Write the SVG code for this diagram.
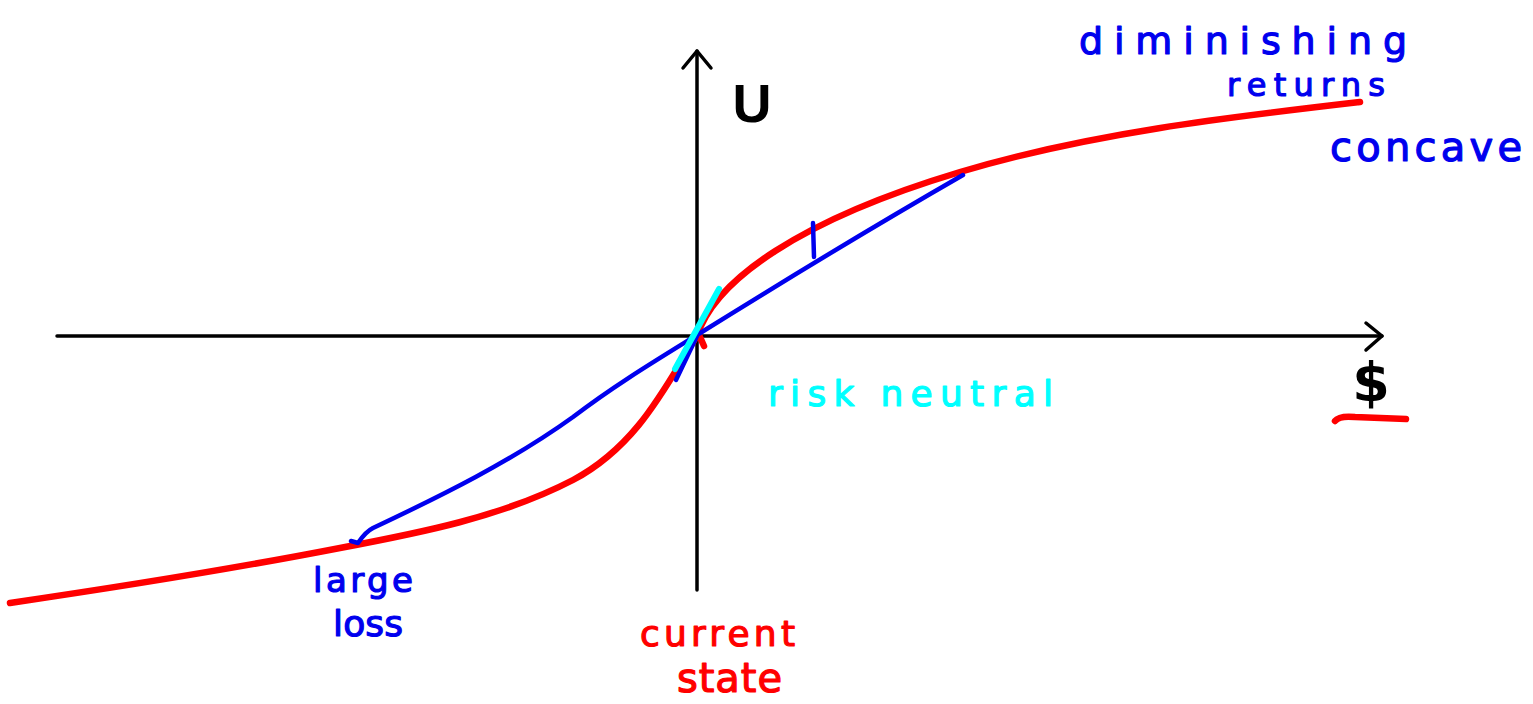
<svg xmlns="http://www.w3.org/2000/svg" width="1533" height="704" viewBox="0 0 1533 704">
<style>
.ax{fill:none;stroke:#000;stroke-width:3.5;stroke-linecap:round;stroke-linejoin:round}
.red{fill:none;stroke:#ff0000;stroke-width:6.5;stroke-linecap:round;stroke-linejoin:round}
.blue{fill:none;stroke:#0000ee;stroke-width:4.5;stroke-linecap:round;stroke-linejoin:round}
.cyan{fill:none;stroke:#00ffff;stroke-width:6;stroke-linecap:round}
.hand{font-family:"DejaVu Sans","Liberation Sans",sans-serif;stroke-width:1.2;stroke-linejoin:round}
.tb{fill:#0000ee;stroke:#0000ee}
.tr{fill:#ff0000;stroke:#ff0000}
.tc{fill:#00ffff;stroke:#00ffff}
</style>
<rect width="1533" height="704" fill="#fff"/>
<g id="axes">
<line class="ax" x1="57" y1="336" x2="1382" y2="336"/>
<polyline class="ax" points="1366,323 1382,336 1366,350"/>
<line class="ax" x1="697" y1="51" x2="697" y2="590"/>
<polyline class="ax" points="683,68 697,51 711,68"/>
<text x="752" y="122" font-size="54" text-anchor="middle" font-family="Liberation Sans, sans-serif" font-weight="bold" fill="#000">U</text>
<text x="1371" y="401" font-size="54" text-anchor="middle" font-family="DejaVu Sans, sans-serif" font-weight="bold" fill="#000">$</text>
<path class="red" d="M1335,421 C1338,417 1345,416 1355,417 L1406,419" stroke-width="4"/>
</g>
<g id="curves">
<path class="red" d="M697,336 C715,280 800,220 960,172 C1090,133 1230,117 1360,102"/>
<path class="red" d="M697,336 C667,383 639,445 573,480 C502,517 419,533 340,548 C232,569 119,587 10,603"/>
<path class="red" d="M700,337 L704,346" stroke-width="5"/>
<path class="blue" d="M351,541 L358,543 C362,537 367,531 373,528 C441,496 512,461 573,417 C615,385 655,361 697,335 C782,282 876,225 963,175"/>
<path class="blue" d="M697,336 L676,380" stroke-width="5"/>
<line class="blue" x1="813" y1="223" x2="814" y2="257"/>
<line class="cyan" x1="675" y1="369" x2="719" y2="289"/>
</g>
<g id="labels">
<text class="hand tb" x="1079" y="54" font-size="38" textLength="328" lengthAdjust="spacing">diminishing</text>
<text class="hand tb" x="1227" y="96" font-size="32" textLength="158" lengthAdjust="spacing">returns</text>
<text class="hand tb" x="1330" y="161" font-size="40" textLength="192" lengthAdjust="spacing">concave</text>
<text class="hand tc" x="768" y="406" font-size="36" textLength="285" lengthAdjust="spacing">risk neutral</text>
<text class="hand tb" x="313" y="592" font-size="34" textLength="100" lengthAdjust="spacing">large</text>
<text class="hand tb" x="333" y="636" font-size="36" textLength="70" lengthAdjust="spacing">loss</text>
<text class="hand tr" x="640" y="646" font-size="36" textLength="155" lengthAdjust="spacing">current</text>
<text class="hand tr" x="677" y="692" font-size="40" textLength="105" lengthAdjust="spacing">state</text>
</g>
</svg>
